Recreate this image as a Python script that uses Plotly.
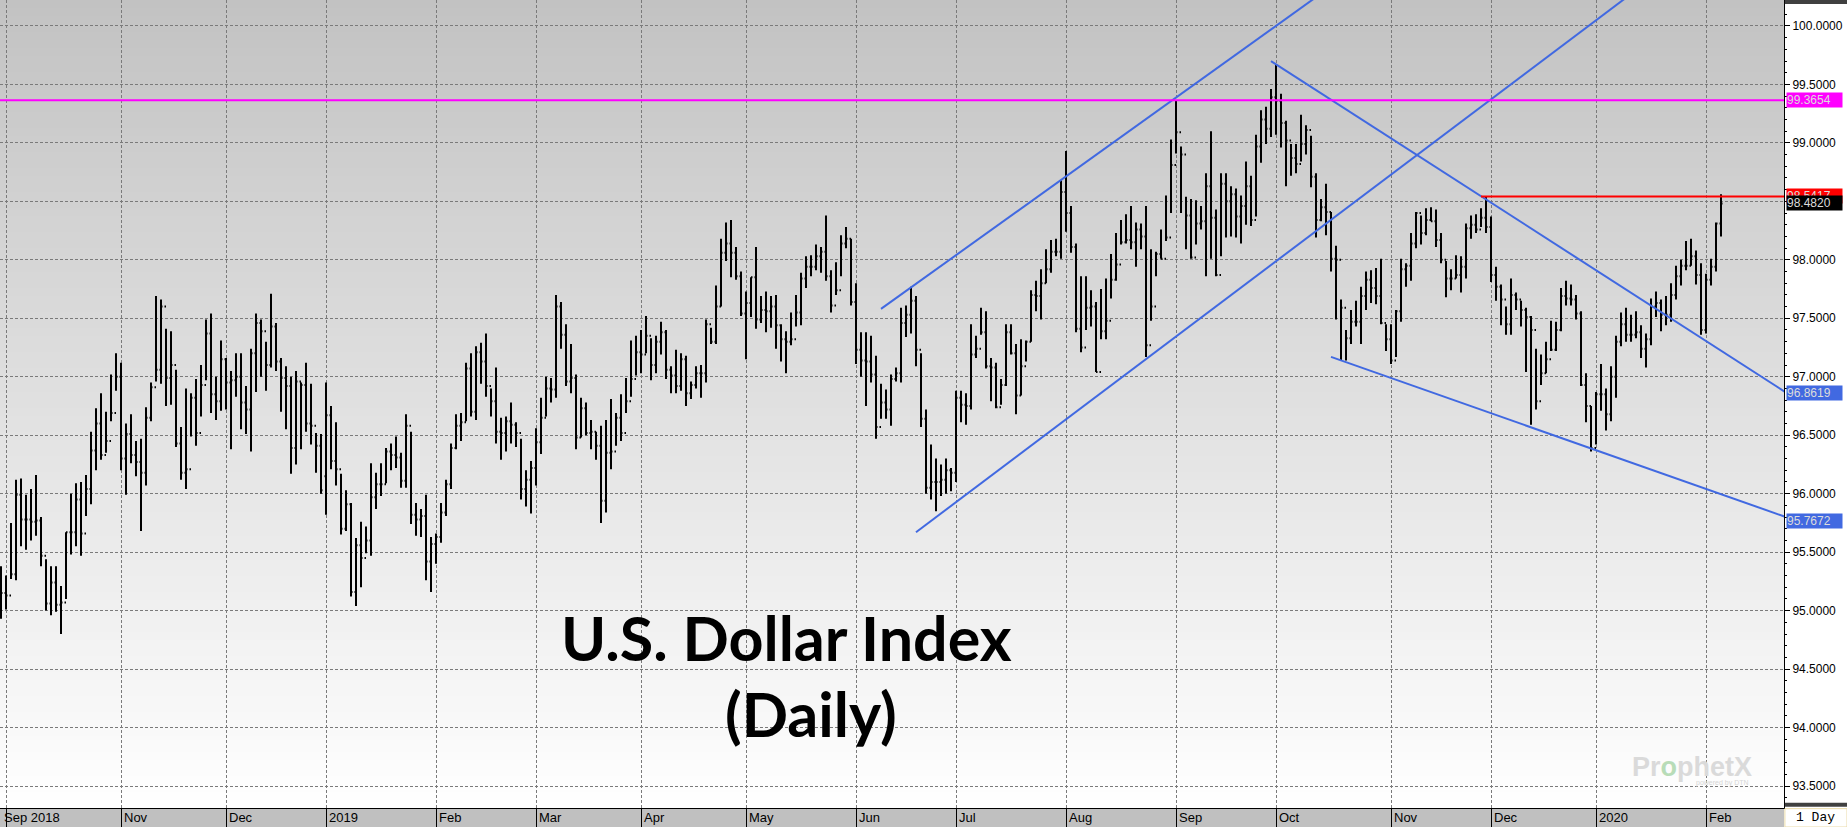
import pandas as pd
import plotly.graph_objects as go

# trading calendar: weekdays from the first bar to the last, minus the sessions the chart skips
first_day = "2018-09-28"
last_day = "2020-02-06"
holidays = ["2018-11-22", "2018-12-25", "2019-01-01", "2019-04-19", "2019-05-27",
            "2019-07-04", "2019-09-02", "2019-11-28", "2019-12-25", "2020-01-01"]

# daily bars
opens = [
    95.25, 95.15, 95.13, 95.31, 95.99, 95.78, 95.78, 95.76, 95.77, 95.47,
    95.06, 95.24, 95.05, 95.07, 95.67, 95.67, 95.95, 95.66, 96.04, 96.37,
    96.60, 96.33, 96.45, 96.69, 97.00, 96.30, 96.51, 96.33, 96.27, 96.18,
    96.65, 96.91, 97.06, 97.60, 96.99, 97.10, 96.43, 96.18, 96.21, 96.82,
    96.52, 96.93, 97.37, 96.85, 96.79, 97.15, 96.95, 96.97, 97.00, 96.78,
    96.72, 97.20, 97.46, 97.39, 97.10, 97.43, 97.13, 96.99, 96.92, 96.39,
    96.96, 96.93, 96.60, 96.58, 96.41, 96.15, 96.67, 96.28, 96.21, 95.70,
    95.91, 95.16, 95.56, 95.45, 95.60, 95.97, 96.08, 96.08, 96.36, 96.33,
    96.31, 96.11, 96.58, 95.82, 95.78, 95.81, 95.42, 95.57, 95.63, 95.84,
    96.08, 96.39, 96.58, 96.61, 97.07, 96.70, 97.21, 97.13, 96.92, 96.79,
    96.53, 96.52, 96.62, 96.59, 96.52, 96.04, 96.12, 96.22, 96.44, 96.65,
    96.90, 96.89, 97.60, 97.36, 96.96, 96.99, 96.48, 96.73, 96.52, 96.53,
    96.41, 95.94, 96.35, 96.36, 96.65, 96.52, 96.79, 96.98, 97.21, 97.19,
    97.35, 97.10, 97.30, 97.38, 97.06, 97.01, 96.92, 97.15, 96.86, 96.93,
    97.03, 97.03, 97.45, 97.30, 97.60, 98.06, 98.14, 98.06, 97.86, 97.54,
    97.63, 97.85, 97.49, 97.57, 97.56, 97.60, 97.44, 97.32, 97.30, 97.32,
    97.55, 97.84, 97.94, 97.94, 98.03, 98.07, 97.86, 97.61, 97.74, 98.14,
    98.18, 97.64, 97.23, 97.14, 97.13, 97.02, 96.57, 96.78, 96.72, 96.98,
    97.03, 97.46, 97.53, 97.65, 97.23, 96.64, 96.05, 96.10, 96.10, 96.12,
    96.20, 96.18, 96.82, 96.76, 96.75, 97.19, 97.24, 97.38, 97.09, 97.08,
    96.74, 96.93, 97.38, 97.20, 96.84, 97.09, 97.30, 97.70, 97.69, 97.80,
    97.92, 98.07, 98.07, 98.58, 98.40, 98.11, 97.41, 97.25, 97.59, 97.60,
    97.04, 97.39, 97.48, 97.83, 97.96, 98.15, 98.17, 98.15, 98.26, 98.20,
    97.27, 97.60, 98.05, 98.01, 98.19, 98.81, 99.09, 98.90, 98.38, 98.02,
    98.31, 98.33, 98.63, 98.36, 97.87, 98.65, 98.50, 98.56, 98.37, 98.46,
    98.63, 98.34, 98.97, 99.20, 99.12, 99.39, 99.36, 99.17, 99.02, 98.87,
    98.82, 98.99, 99.11, 98.71, 98.34, 98.45, 98.41, 98.01, 98.00, 97.59,
    97.33, 97.47, 97.47, 97.69, 97.83, 97.76, 97.69, 97.46, 97.32, 97.14,
    97.56, 97.92, 97.95, 98.14, 98.40, 98.23, 98.34, 98.33, 98.17, 98.00,
    97.84, 97.84, 97.87, 97.94, 98.27, 98.30, 98.26, 98.36, 98.28, 97.87,
    97.77, 97.66, 97.45, 97.70, 97.66, 97.57, 97.51, 97.40, 96.79, 97.03,
    97.15, 97.23, 97.40, 97.69, 97.67, 97.66, 97.54, 96.93, 96.75, 96.39,
    96.85, 96.85, 96.68, 97.00, 97.30, 97.45, 97.36, 97.36, 97.38, 97.24,
    97.32, 97.60, 97.63, 97.53, 97.53, 97.70, 97.86, 97.95, 97.95, 98.03,
    97.87, 97.40, 97.83, 97.94, 98.31,
]
highs = [
    95.38, 95.30, 95.75, 96.12, 96.13, 95.99, 96.04, 96.16, 95.80, 95.44,
    95.38, 95.38, 95.21, 95.67, 96.00, 96.09, 96.10, 96.16, 96.53, 96.73,
    96.86, 96.70, 97.02, 97.20, 97.12, 96.60, 96.68, 96.45, 96.47, 96.74,
    96.95, 97.69, 97.66, 97.41, 97.39, 97.06, 96.57, 96.90, 96.86, 96.98,
    97.10, 97.49, 97.54, 97.00, 97.31, 97.16, 97.05, 97.20, 97.20, 96.92,
    97.24, 97.54, 97.49, 97.30, 97.71, 97.46, 97.16, 97.09, 97.00, 97.05,
    96.95, 97.12, 96.94, 96.52, 96.51, 96.95, 96.75, 96.61, 96.17, 96.03,
    95.92, 95.62, 95.76, 95.72, 96.26, 96.18, 96.26, 96.39, 96.43, 96.49,
    96.35, 96.68, 96.53, 95.92, 95.87, 95.99, 95.63, 95.66, 95.92, 96.12,
    96.43, 96.68, 96.69, 97.12, 97.20, 97.26, 97.29, 97.37, 96.90, 97.08,
    96.65, 96.66, 96.78, 96.61, 96.47, 96.20, 96.28, 96.56, 96.82, 97.00,
    96.99, 97.70, 97.64, 97.45, 97.28, 97.02, 96.82, 96.78, 96.63, 96.53,
    96.58, 96.63, 96.81, 96.69, 96.85, 96.99, 97.31, 97.35, 97.40, 97.52,
    97.33, 97.35, 97.47, 97.40, 97.09, 97.23, 97.20, 97.18, 96.96, 97.09,
    97.10, 97.49, 97.42, 97.78, 98.18, 98.32, 98.34, 98.11, 97.90, 97.73,
    97.85, 98.11, 97.69, 97.73, 97.69, 97.70, 97.45, 97.39, 97.55, 97.70,
    97.89, 98.03, 98.04, 98.13, 98.11, 98.38, 97.91, 97.98, 98.21, 98.28,
    98.18, 97.80, 97.38, 97.38, 97.35, 97.18, 96.94, 96.89, 97.02, 97.08,
    97.59, 97.61, 97.77, 97.69, 97.20, 96.72, 96.42, 96.30, 96.25, 96.30,
    96.22, 96.88, 96.88, 96.86, 97.45, 97.35, 97.59, 97.56, 97.16, 97.12,
    96.98, 97.45, 97.45, 97.28, 97.32, 97.31, 97.74, 97.82, 97.92, 98.09,
    98.17, 98.18, 98.68, 98.93, 98.46, 98.14, 97.86, 97.86, 97.74, 97.64,
    97.75, 97.84, 98.05, 98.23, 98.34, 98.39, 98.46, 98.32, 98.31, 98.46,
    98.09, 98.07, 98.26, 98.55, 99.03, 99.36, 98.97, 98.54, 98.52, 98.51,
    98.46, 98.74, 99.10, 98.43, 98.74, 98.74, 98.63, 98.61, 98.55, 98.84,
    98.72, 99.07, 99.28, 99.31, 99.46, 99.67, 99.42, 99.19, 98.99, 98.99,
    99.24, 99.15, 99.06, 98.74, 98.52, 98.65, 98.41, 98.12, 97.66, 97.40,
    97.57, 97.65, 97.77, 97.90, 97.91, 97.93, 98.01, 97.45, 97.45, 97.57,
    98.01, 97.97, 98.23, 98.41, 98.38, 98.44, 98.45, 98.43, 98.23, 97.99,
    97.92, 98.04, 98.03, 98.31, 98.38, 98.39, 98.44, 98.54, 98.37, 97.94,
    97.79, 97.60, 97.84, 97.72, 97.65, 97.59, 97.52, 97.24, 97.19, 97.30,
    97.48, 97.47, 97.76, 97.82, 97.79, 97.70, 97.56, 97.03, 96.75, 96.87,
    97.11, 96.90, 97.09, 97.35, 97.55, 97.59, 97.53, 97.56, 97.44, 97.37,
    97.67, 97.73, 97.66, 97.69, 97.80, 97.95, 98.00, 98.16, 98.18, 98.08,
    97.97, 97.88, 98.01, 98.32, 98.56,
]
lows = [
    94.93, 95.01, 95.27, 95.26, 95.55, 95.52, 95.60, 95.64, 95.38, 95.00,
    94.96, 94.99, 94.80, 95.10, 95.48, 95.55, 95.47, 95.81, 95.91, 96.20,
    96.29, 96.35, 96.62, 96.88, 96.20, 95.99, 96.26, 96.15, 95.68, 96.07,
    96.62, 96.96, 96.94, 96.75, 96.76, 96.40, 96.12, 96.04, 96.49, 96.41,
    96.66, 96.97, 96.69, 96.63, 96.71, 96.72, 96.38, 96.83, 96.55, 96.51,
    96.36, 96.87, 97.00, 96.88, 97.08, 97.05, 96.70, 96.55, 96.17, 96.25,
    96.38, 96.53, 96.42, 96.18, 96.00, 95.82, 96.21, 96.07, 95.65, 95.68,
    95.12, 95.04, 95.20, 95.49, 95.47, 95.87, 95.98, 96.09, 96.20, 96.22,
    96.05, 96.05, 95.74, 95.64, 95.63, 95.26, 95.16, 95.40, 95.58, 95.81,
    96.04, 96.38, 96.45, 96.62, 96.66, 96.63, 96.94, 96.83, 96.66, 96.43,
    96.29, 96.36, 96.43, 96.40, 95.95, 95.89, 95.83, 96.07, 96.34, 96.66,
    96.78, 96.82, 97.24, 96.92, 96.86, 96.38, 96.48, 96.50, 96.38, 96.29,
    95.75, 95.84, 96.21, 96.41, 96.45, 96.69, 96.83, 97.01, 97.03, 97.20,
    96.97, 97.03, 97.19, 96.98, 96.86, 96.86, 96.88, 96.75, 96.81, 96.90,
    96.82, 96.95, 97.28, 97.28, 97.60, 97.99, 97.85, 97.83, 97.52, 97.15,
    97.51, 97.41, 97.46, 97.38, 97.42, 97.24, 97.13, 97.03, 97.27, 97.43,
    97.44, 97.76, 97.86, 97.91, 97.89, 97.82, 97.55, 97.70, 97.86, 98.10,
    97.61, 97.11, 97.00, 96.75, 96.95, 96.47, 96.64, 96.64, 96.58, 96.96,
    96.95, 97.34, 97.37, 97.09, 96.57, 96.00, 95.95, 95.85, 95.98, 96.00,
    96.02, 96.10, 96.61, 96.59, 96.72, 97.16, 97.36, 97.07, 96.79, 96.73,
    96.76, 96.92, 97.19, 96.68, 96.84, 97.13, 97.30, 97.56, 97.49, 97.80,
    97.89, 98.03, 98.01, 98.24, 98.06, 97.38, 97.21, 97.40, 97.43, 97.04,
    97.32, 97.32, 97.67, 97.82, 98.13, 98.14, 98.09, 97.94, 98.09, 97.17,
    97.48, 97.86, 98.01, 98.16, 98.40, 98.91, 98.40, 98.09, 98.01, 98.13,
    98.26, 97.86, 98.01, 97.86, 98.03, 98.19, 98.20, 98.19, 98.14, 98.30,
    98.29, 98.37, 98.83, 98.99, 99.05, 99.07, 98.96, 98.63, 98.72, 98.74,
    98.84, 98.90, 98.62, 98.19, 98.33, 98.21, 97.90, 97.49, 97.14, 97.14,
    97.28, 97.43, 97.28, 97.57, 97.63, 97.62, 97.45, 97.22, 97.11, 97.17,
    97.47, 97.77, 97.82, 98.10, 98.13, 98.21, 98.33, 98.11, 97.97, 97.68,
    97.74, 97.84, 97.72, 97.84, 98.18, 98.23, 98.28, 98.23, 97.81, 97.65,
    97.44, 97.36, 97.36, 97.57, 97.43, 97.04, 96.59, 96.72, 96.93, 97.03,
    97.22, 97.22, 97.39, 97.61, 97.61, 97.49, 96.92, 96.61, 96.36, 96.42,
    96.71, 96.54, 96.62, 96.82, 97.26, 97.30, 97.30, 97.33, 97.16, 97.08,
    97.27, 97.51, 97.39, 97.44, 97.47, 97.66, 97.78, 97.91, 97.95, 97.79,
    97.36, 97.37, 97.78, 97.90, 98.20,
]
closes = [
    95.15, 95.13, 95.31, 95.99, 95.78, 95.78, 95.76, 95.77, 95.47, 95.06,
    95.24, 95.05, 95.07, 95.67, 95.67, 95.95, 95.66, 96.04, 96.37, 96.60,
    96.33, 96.45, 96.69, 97.00, 96.30, 96.51, 96.33, 96.27, 96.18, 96.65,
    96.91, 97.06, 97.60, 96.99, 97.10, 96.43, 96.18, 96.21, 96.82, 96.52,
    96.93, 97.37, 96.85, 96.79, 97.15, 96.95, 96.97, 97.00, 96.78, 96.72,
    97.20, 97.46, 97.39, 97.10, 97.43, 97.13, 96.99, 96.92, 96.39, 96.96,
    96.93, 96.60, 96.58, 96.41, 96.03, 96.67, 96.28, 96.21, 95.70, 95.91,
    95.16, 95.56, 95.45, 95.60, 95.97, 96.08, 96.08, 96.36, 96.33, 96.31,
    96.11, 96.58, 95.82, 95.78, 95.81, 95.42, 95.57, 95.63, 95.84, 96.08,
    96.39, 96.58, 96.61, 97.07, 96.70, 97.21, 97.13, 96.92, 96.79, 96.53,
    96.52, 96.62, 96.59, 96.52, 96.04, 96.12, 96.22, 96.44, 96.65, 96.90,
    96.89, 97.60, 97.36, 96.96, 96.99, 96.48, 96.73, 96.52, 96.53, 96.41,
    95.94, 96.35, 96.36, 96.65, 96.52, 96.79, 96.98, 97.21, 97.19, 97.35,
    97.10, 97.30, 97.38, 97.06, 97.01, 96.92, 97.15, 96.86, 96.93, 97.03,
    97.03, 97.45, 97.30, 97.60, 98.06, 98.14, 98.06, 97.86, 97.54, 97.63,
    97.85, 97.49, 97.57, 97.56, 97.60, 97.44, 97.32, 97.30, 97.32, 97.55,
    97.84, 97.94, 97.94, 98.03, 98.07, 97.86, 97.61, 97.74, 98.14, 98.18,
    97.64, 97.23, 97.14, 97.13, 97.02, 96.57, 96.78, 96.72, 96.98, 97.03,
    97.46, 97.53, 97.65, 97.23, 96.64, 96.05, 96.10, 96.10, 96.12, 96.20,
    96.18, 96.82, 96.76, 96.75, 97.19, 97.24, 97.38, 97.09, 97.08, 96.74,
    96.93, 97.38, 97.20, 96.84, 97.09, 97.30, 97.70, 97.69, 97.80, 97.92,
    98.07, 98.07, 98.58, 98.40, 98.11, 97.41, 97.25, 97.59, 97.60, 97.04,
    97.39, 97.48, 97.83, 97.96, 98.15, 98.17, 98.15, 98.26, 98.20, 97.27,
    97.60, 98.05, 98.01, 98.19, 98.81, 99.09, 98.90, 98.38, 98.02, 98.31,
    98.33, 98.63, 98.36, 97.87, 98.65, 98.50, 98.56, 98.37, 98.46, 98.63,
    98.34, 98.97, 99.20, 99.12, 99.39, 99.36, 99.17, 99.02, 98.87, 98.82,
    98.99, 99.11, 98.71, 98.34, 98.45, 98.41, 98.01, 98.00, 97.59, 97.33,
    97.47, 97.47, 97.69, 97.83, 97.76, 97.69, 97.46, 97.32, 97.14, 97.56,
    97.92, 97.95, 98.14, 98.40, 98.23, 98.34, 98.33, 98.17, 98.00, 97.84,
    97.84, 97.87, 97.94, 98.27, 98.30, 98.26, 98.36, 98.28, 97.87, 97.77,
    97.66, 97.45, 97.70, 97.66, 97.57, 97.51, 97.40, 96.79, 97.03, 97.15,
    97.23, 97.40, 97.69, 97.67, 97.66, 97.54, 96.93, 96.75, 96.39, 96.85,
    96.85, 96.68, 97.00, 97.30, 97.45, 97.36, 97.36, 97.38, 97.24, 97.32,
    97.60, 97.63, 97.53, 97.53, 97.70, 97.86, 97.95, 97.95, 98.03, 97.87,
    97.40, 97.83, 97.94, 98.31, 98.482,
]

# hand-drawn study lines: anchor dates and prices
channel_top_dates = ["2019-06-10", "2019-10-21"]
channel_top_vals = [97.58, 100.43]
channel_bottom_dates = ["2019-06-19", "2020-01-16"]
channel_bottom_vals = [95.67, 100.37]
wedge_top_dates = ["2019-09-30", "2020-02-25"]
wedge_top_vals = [99.70, 96.865]
wedge_bottom_dates = ["2019-10-16", "2020-02-25"]
wedge_bottom_vals = [97.17, 95.80]
resistance_dates = ["2019-11-27", "2020-02-25"]
resistance_val = 98.5417
horizontal_val = 99.3654

# price flags on the right scale
flag_vals = [99.3654, 98.5417, 98.4820, 96.8619, 95.7672]
flag_colors = ["#ff00ff", "#ff0000", "#000000", "#4169e1", "#4169e1"]

# month grid and labels of the time scale
grid_dates = ["2018-10-01", "2018-11-01", "2018-12-03", "2019-01-02", "2019-02-01",
              "2019-03-01", "2019-04-01", "2019-05-01", "2019-06-03", "2019-07-01",
              "2019-08-01", "2019-09-03", "2019-10-01", "2019-11-01", "2019-12-02",
              "2020-01-02", "2020-02-03"]
label_dates = ["2018-09-28"] + grid_dates[1:]
month_labels = ["Sep 2018", "Nov", "Dec", "2019", "Feb", "Mar", "Apr", "May", "Jun",
                "Jul", "Aug", "Sep", "Oct", "Nov", "Dec", "2020", "Feb"]

dates = [d for d in pd.bdate_range(first_day, last_day).strftime("%Y-%m-%d") if d not in holidays]
assert len(dates) == len(opens) == len(highs) == len(lows) == len(closes), (
    len(dates), len(opens), len(highs), len(lows), len(closes))

W, H = 1847, 827
PLOT_W, PLOT_H = 1784, 808
BLUE = "#4169e1"
TXT = "Liberation Sans, Arial, sans-serif"

fig = go.Figure()

fig.add_trace(go.Ohlc(
    x=dates, open=opens, high=highs, low=lows, close=closes,
    increasing=dict(line=dict(color="black", width=2)),
    decreasing=dict(line=dict(color="black", width=2)),
    tickwidth=0.3, showlegend=False, name="DX",
))

for xs, ys in [(channel_top_dates, channel_top_vals),
               (channel_bottom_dates, channel_bottom_vals),
               (wedge_top_dates, wedge_top_vals),
               (wedge_bottom_dates, wedge_bottom_vals)]:
    fig.add_trace(go.Scatter(x=xs, y=ys, mode="lines", line=dict(color=BLUE, width=2),
                             showlegend=False, hoverinfo="skip"))

fig.add_trace(go.Scatter(x=resistance_dates, y=[resistance_val] * 2, mode="lines",
                         line=dict(color="#ff0000", width=2), showlegend=False, hoverinfo="skip"))

shapes = []
# grey-to-white vertical gradient behind the bars (bands overlap a little to hide seams)
n_bands = 101
for i in range(n_bands):
    g = round(194 + 61 * (i + 0.5) / n_bands)
    shapes.append(dict(type="rect", xref="paper", yref="paper", layer="below",
                       x0=0, x1=1, y0=max(0, 1 - (i + 1) / n_bands - 0.003), y1=1 - i / n_bands,
                       fillcolor=f"rgb({g},{g},{g})", line=dict(width=0)))
band = 19 / PLOT_H
right = W / PLOT_W
# time-scale strip
shapes.append(dict(type="rect", xref="paper", yref="paper", layer="below",
                   x0=0, x1=1, y0=-band, y1=0, fillcolor="#c0c0c0", line=dict(width=0)))
# "1 Day" box and the dark scroll strips of the price scale
shapes.append(dict(type="rect", xref="paper", yref="paper", x0=1.0005, x1=right, y0=-band, y1=-0.0008,
                   fillcolor="white", line=dict(color="#eadba8", width=1)))
shapes.append(dict(type="rect", xref="paper", yref="paper", x0=1.0005, x1=right, y0=1 - 4 / PLOT_H, y1=1,
                   fillcolor="#404040", line=dict(width=0)))
shapes.append(dict(type="rect", xref="paper", yref="paper", x0=1.0005, x1=right,
                   y0=1.3 / PLOT_H, y1=5.3 / PLOT_H, fillcolor="#404040", line=dict(width=0)))
# horizontal level
shapes.append(dict(type="line", xref="paper", yref="y", x0=0, x1=1,
                   y0=horizontal_val, y1=horizontal_val, line=dict(color="#ff00ff", width=2)))

annotations = []
for d, t in zip(label_dates, month_labels):
    annotations.append(dict(x=d, y=-band / 2, xref="x", yref="paper", text=t, showarrow=False,
                            xanchor="left", yanchor="middle", xshift=1,
                            font=dict(family=TXT, size=13, color="black")))
for v, c in zip(flag_vals, flag_colors):
    annotations.append(dict(x=1, y=v, xref="paper", yref="y", text=f"{v:.4f}", showarrow=False,
                            xanchor="left", yanchor="middle", xshift=2, width=55, align="left",
                            bgcolor=c, borderpad=0,
                            font=dict(family=TXT, size=12, color="#dcdcdc")))
annotations.append(dict(x=(1 + right) / 2, y=-band / 2, xref="paper", yref="paper", text="1 Day",
                        showarrow=False, xanchor="center", yanchor="middle",
                        font=dict(family="Liberation Mono, Courier New, monospace", size=13, color="black")))
annotations.append(dict(x=786 / PLOT_W, y=1 - 637 / PLOT_H, xref="paper", yref="paper",
                        text="U.S. Dollar Index", showarrow=False, xanchor="center", yanchor="middle",
                        font=dict(family="Lato", size=61, color="black", weight="bold")))
annotations.append(dict(x=811 / PLOT_W, y=1 - 713 / PLOT_H, xref="paper", yref="paper",
                        text="(Daily)", showarrow=False, xanchor="center", yanchor="middle",
                        font=dict(family="Lato", size=61, color="black", weight="bold")))
annotations.append(dict(x=1692 / PLOT_W, y=1 - 767 / PLOT_H, xref="paper", yref="paper",
                        text="Pr<span style='color:#b8dcb8'>o</span>phetX", showarrow=False,
                        xanchor="center", yanchor="middle",
                        font=dict(family=TXT, size=27, color="#dadada", weight="bold")))
annotations.append(dict(x=1722 / PLOT_W, y=1 - 783 / PLOT_H, xref="paper", yref="paper",
                        text="powered by DTN", showarrow=False, xanchor="center", yanchor="middle",
                        font=dict(family=TXT, size=7, color="#d6d6d6")))

fig.update_layout(
    width=W, height=H, autosize=False,
    margin=dict(l=0, r=W - PLOT_W, t=0, b=H - PLOT_H),
    paper_bgcolor="white", plot_bgcolor="rgba(0,0,0,0)",
    showlegend=False, shapes=shapes, annotations=annotations,
    xaxis=dict(
        type="date",
        range=["2018-09-27 19:12", "2020-02-24 14:24"],
        rangebreaks=[dict(bounds=["sat", "mon"]), dict(values=holidays)],
        rangeslider=dict(visible=False),
        tickvals=grid_dates, showticklabels=False,
        ticks="outside", ticklen=19, tickcolor="black", tickwidth=1,
        showgrid=True, gridcolor="#7a7a7a", griddash="3px,2px", gridwidth=1,
        showline=True, linecolor="black", linewidth=1,
        zeroline=False, automargin=False, fixedrange=True,
    ),
    yaxis=dict(
        side="right", range=[93.312, 100.222],
        tick0=93.5, dtick=0.5, tickformat=".4f",
        tickfont=dict(family=TXT, size=12, color="black"),
        ticks="outside", ticklen=5, tickcolor="black",
        minor=dict(dtick=0.1, ticks="outside", ticklen=2, tickcolor="black", showgrid=False),
        showgrid=True, gridcolor="#7a7a7a", griddash="3px,2px", gridwidth=1,
        showline=True, linecolor="black", linewidth=1,
        zeroline=False, automargin=False, fixedrange=True,
    ),
)

fig.write_html("out.html", config={"displayModeBar": False},
               post_script="document.body.style.margin='0';document.body.style.overflow='hidden';")
